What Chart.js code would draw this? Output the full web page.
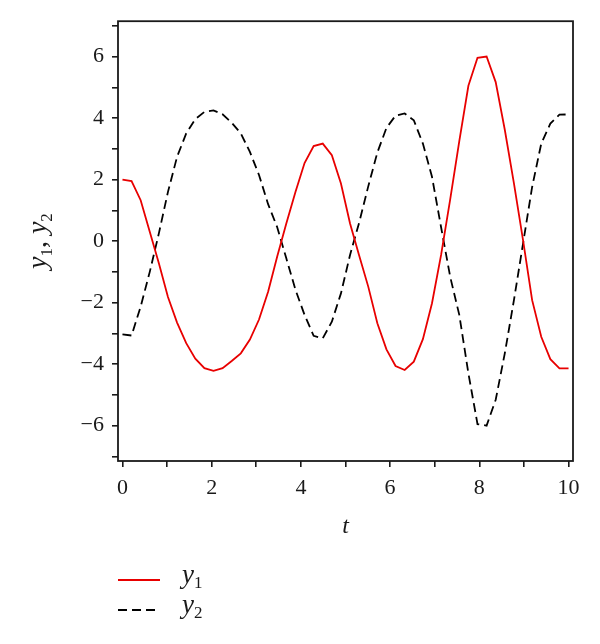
<!DOCTYPE html>
<html>
<head>
<meta charset="utf-8">
<script src="https://cdn.jsdelivr.net/npm/chart.js@4.4.0/dist/chart.umd.min.js"></script>
<style>
  html, body { margin: 0; padding: 0; background: #fff; }
  #wrap { width: 600px; height: 644px; }
</style>
</head>
<body>
<div id="wrap"><canvas id="chart" width="600" height="644"></canvas></div>
<script>
/* ── data ── */
const T = [
    0, 0.204, 0.408, 0.612, 0.816, 1.020, 1.224, 1.429, 1.633, 1.837,
    2.041, 2.245, 2.449, 2.653, 2.857, 3.061, 3.265, 3.469, 3.673, 3.878,
    4.082, 4.286, 4.490, 4.694, 4.898, 5.102, 5.306, 5.510, 5.714, 5.918,
    6.122, 6.327, 6.531, 6.735, 6.939, 7.143, 7.347, 7.551, 7.755, 7.959,
    8.163, 8.367, 8.571, 8.776, 8.980, 9.184, 9.388, 9.592, 9.796, 10,
];
const Y1 = [
    2.00, 1.95, 1.33, 0.30, -0.72, -1.82, -2.65, -3.32, -3.82, -4.13,
    -4.22, -4.13, -3.90, -3.65, -3.20, -2.55, -1.65, -0.50, 0.57, 1.60,
    2.54, 3.09, 3.17, 2.79, 1.87, 0.57, -0.47, -1.48, -2.67, -3.52,
    -4.06, -4.19, -3.92, -3.19, -2.02, -0.45, 1.36, 3.25, 5.05, 5.96,
    6.00, 5.17, 3.62, 1.88, 0.03, -1.92, -3.11, -3.84, -4.14, -4.14,
];
const Y2 = [
    -3.03, -3.07, -2.13, -1.00, 0.25, 1.60, 2.74, 3.50, 3.97, 4.20,
    4.25, 4.12, 3.85, 3.50, 2.90, 2.15, 1.20, 0.45, -0.56, -1.58,
    -2.40, -3.08, -3.16, -2.62, -1.70, -0.45, 0.60, 1.78, 2.88, 3.68,
    4.08, 4.15, 3.93, 3.17, 2.09, 0.45, -1.16, -2.40, -4.30, -5.95,
    -6.00, -5.16, -3.65, -1.92, -0.08, 1.76, 3.17, 3.82, 4.11, 4.12,
];
const X_TICKS = [0, 1, 2, 3, 4, 5, 6, 7, 8, 9, 10];
const Y_TICKS = [-7, -6, -5, -4, -3, -2, -1, 0, 1, 2, 3, 4, 5, 6, 7];
const SERIES_NAMES = ['y1', 'y2'];
const X_TITLE = 't';
const Y_TITLE = 'y1, y2';

const SERIF = "'Liberation Serif', 'DejaVu Serif', serif";
const INK = '#1a1a1a';

// italic letters, digits as upright subscripts
function drawMath(ctx, text, x, y, size, align) {
    const parts = [...text].map((ch) => {
        if (/[0-9]/.test(ch)) return { ch, font: `${Math.round(size * 0.62)}px ${SERIF}`, dy: size * 0.2 };
        if (/[a-z]/i.test(ch)) return { ch, font: `italic ${size}px ${SERIF}`, dy: 0 };
        return { ch, font: `${size}px ${SERIF}`, dy: 0 };
    });
    let total = 0;
    parts.forEach((p) => { ctx.font = p.font; p.w = ctx.measureText(p.ch).width; total += p.w; });
    let cx = align === 'center' ? x - total / 2 : x;
    ctx.textAlign = 'left';
    ctx.textBaseline = 'alphabetic';
    parts.forEach((p) => {
        ctx.font = p.font;
        ctx.fillText(p.ch, cx, y + p.dy);
        cx += p.w;
    });
}

const framePlugin = {
    id: 'frame',
    afterDraw(chart) {
        const { ctx, chartArea: a } = chart;
        ctx.save();
        ctx.strokeStyle = INK;
        ctx.lineWidth = 1.8;
        ctx.strokeRect(a.left, a.top, a.right - a.left, a.bottom - a.top);

        // y-axis title, rotated
        ctx.fillStyle = INK;
        ctx.translate(38, (a.top + a.bottom) / 2);
        ctx.rotate(-Math.PI / 2);
        drawMath(ctx, Y_TITLE, 0, 8, 28, 'center');
        ctx.restore();

        // stacked legend under the plot
        ctx.save();
        chart.data.datasets.forEach((ds, i) => {
            const y = 580 + i * 30;
            ctx.strokeStyle = ds.borderColor;
            ctx.lineWidth = ds.borderWidth;
            ctx.setLineDash(ds.borderDash || []);
            ctx.beginPath();
            ctx.moveTo(118, y);
            ctx.lineTo(160, y);
            ctx.stroke();
            ctx.fillStyle = INK;
            drawMath(ctx, ds.label, 182, y + 3, 27, 'left');
        });
        ctx.restore();
    },
};

const tickLabel = (v) => {
    if (v % 2 !== 0) return '';
    return v < 0 ? '\u2212' + Math.abs(v) : String(v);
};

new Chart(document.getElementById('chart'), {
    type: 'line',
    data: {
        datasets: [
            {
                label: SERIES_NAMES[0],
                data: T.map((t, i) => ({ x: t, y: Y1[i] })),
                borderColor: 'rgb(232, 0, 0)',
                borderWidth: 1.8,
                pointRadius: 0,
                tension: 0,
            },
            {
                label: SERIES_NAMES[1],
                data: T.map((t, i) => ({ x: t, y: Y2[i] })),
                borderColor: '#000',
                borderWidth: 1.8,
                borderDash: [9, 5],
                pointRadius: 0,
                tension: 0,
            },
        ],
    },
    options: {
        responsive: false,
        animation: false,
        layout: { padding: { top: 21, right: 27, left: 0, bottom: 103 } },
        plugins: { legend: { display: false }, tooltip: { enabled: false } },
        scales: {
            x: {
                type: 'linear',
                min: -0.1,
                max: 10.1,
                afterBuildTicks: (axis) => { axis.ticks = X_TICKS.map((v) => ({ value: v })); },
                afterFit: (axis) => { axis.height = 80; },
                border: { display: false },
                grid: { drawOnChartArea: false, tickLength: 6, color: INK, lineWidth: 1.6 },
                ticks: { callback: tickLabel, color: INK, padding: 8, maxRotation: 0, font: { family: SERIF, size: 22 } },
                title: {
                    display: true,
                    text: X_TITLE,
                    color: INK,
                    padding: { top: 0, bottom: 0 },
                    font: { family: SERIF, size: 24, style: 'italic' },
                },
            },
            y: {
                min: -7.15,
                max: 7.15,
                afterBuildTicks: (axis) => { axis.ticks = Y_TICKS.map((v) => ({ value: v })); },
                afterFit: (axis) => { axis.width = 118; },
                border: { display: false },
                grid: { drawOnChartArea: false, tickLength: 6, color: INK, lineWidth: 1.6 },
                ticks: { callback: tickLabel, color: INK, padding: 8, font: { family: SERIF, size: 22 } },
            },
        },
    },
    plugins: [framePlugin],
});
</script>
</body>
</html>
